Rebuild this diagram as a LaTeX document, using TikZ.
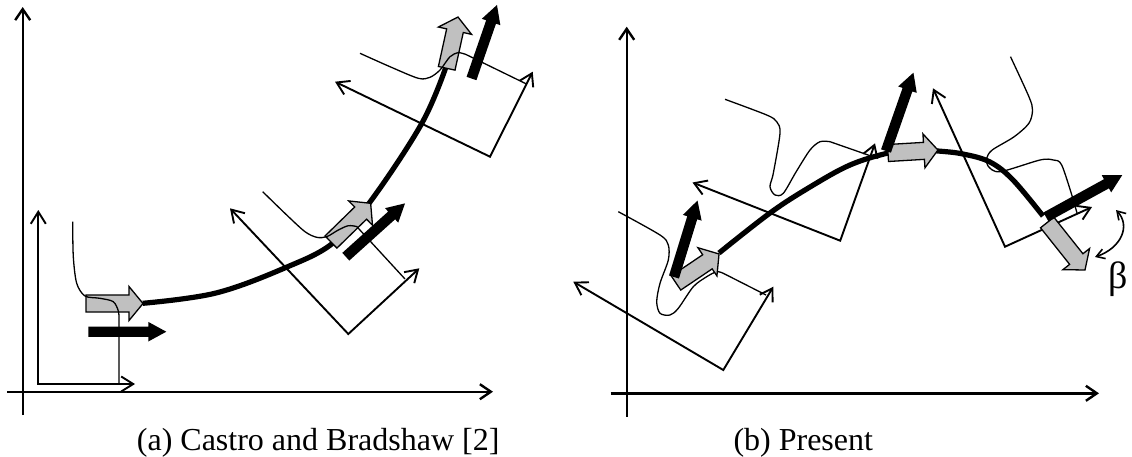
\documentclass[tikz,border=0pt]{standalone}
\usepackage{fontspec}
\setmainfont{Liberation Serif}
\usetikzlibrary{arrows.meta}
\definecolor{silverfill}{RGB}{192,192,192}
\begin{document}
\begin{tikzpicture}[x=1pt,y=-1pt,
  mainax/.style={line width=2.4pt,-{Straight Barb[length=11pt,width=15pt]}},
  frameax/.style={line width=1.9pt,{Straight Barb[length=12pt,width=15pt]}-{Straight Barb[length=12pt,width=15pt]}},
  profline/.style={line width=1.3pt},
  pathcurve/.style={line width=5.2pt},
  captext/.style={font=\fontsize{32}{38}\selectfont,inner sep=0pt},
  pics/garr/.style={code={\draw[line width=1.3pt,fill=silverfill,line join=miter]
     (0,-8.5) -- ({#1-14},-8.5) -- ({#1-14},-17) -- (#1,0) -- ({#1-14},17) -- ({#1-14},8.5) -- (0,8.5) -- cycle;}},
  pics/barr/.style={code={\fill
     (0,-5.2) -- ({#1-18},-5.2) -- ({#1-18},-9.8) -- (#1,0) -- ({#1-18},9.8) -- ({#1-18},5.2) -- (0,5.2) -- cycle;}}
]
\useasboundingbox (0,0) rectangle (1132,456);

% ---------------- panel (a) ----------------
\draw[mainax] (22.7,415) -- (22.7,7);
\draw[mainax] (7,391.7) -- (493,391.7);

% frames
\draw[frameax] (38.3,210) -- (38.3,384) -- (135,384);
\draw[frameax] (230,208.3) -- (348.3,334) -- (419.3,268.3);
\draw[frameax] (335,81.7) -- (490,156.7) -- (532.7,71.7);

% path
\draw[pathcurve] plot[smooth,tension=0.6] coordinates {(142.7,303.3) (216,293) (287,267) (333,243) (370,202) (422,123) (447,64)};

% gray arrows
\pic at (86,303.5) {garr=57};
\pic[rotate=44.3] at (331,242) {garr=55.4};
\pic[rotate=77.6] at (446.7,68.3) {garr=52.5};

% profiles
\draw[profline] plot[smooth,tension=0.5] coordinates {(72.7,221.7) (73.3,256.7) (76.7,283.3) (85,296) (100,298.3) (113.3,301.7) (118.5,311.7) (119,323)} -- (119,384);
\draw[profline] plot[smooth,tension=0.5] coordinates {(262.7,191.7) (286.7,215) (305,231.7) (316.7,237.3) (326.7,236.7) (338.3,230) (348.3,225.7) (356.7,226.5)} -- (405,279);
\draw[profline] plot[smooth,tension=0.5] coordinates {(360,53.3) (390,66.7) (418.3,78.3) (430,77.3) (440,70) (450,56.7) (458.3,52.7) (466,54.5)} -- (526.5,84);

% black arrows
\pic at (88.3,331.7) {barr=78};
\pic[rotate=42] at (345.8,256.7) {barr=79.7};
\pic[rotate=70.9] at (471.5,78.5) {barr=77.8};

% ---------------- panel (b) ----------------
\draw[mainax] (626.7,416.7) -- (626.7,26.7);
\draw[mainax] (610.7,393.3) -- (1099,393.3);

\draw[frameax] (573.3,281.7) -- (723.3,370) -- (773.3,286.7);
\draw[frameax] (692.5,182.5) -- (840.2,240.7) -- (875,143.3);
\draw[frameax] (933,88.3) -- (1005,246.7) -- (1092,207);

% profiles
\draw[profline] plot[smooth,tension=0.5] coordinates {(618.3,211.7) (660,235) (668.3,245) (668.3,260) (660,283.3) (656.7,301.7) (660,313.3) (670,315) (678.3,308.3) (693.3,286.7) (706.7,276.7) (716.7,271.7) (723.3,273.3)} -- (766,295);
\draw[profline] plot[smooth,tension=0.5] coordinates {(725,99.3) (766.7,115) (776.7,121.7) (780,133.3) (773.3,173.3) (770,186.7) (775,195) (783.3,193.3) (796,172) (810,150) (820,141.7) (830,141.7)} -- (871,156);
\draw[profline] plot[smooth,tension=0.5] coordinates {(1010.5,56.7) (1028.9,96.7) (1032.5,110) (1028.9,123.3) (1014.2,136.7) (992.2,150) (986.7,158.3) (988,166) (1000,171.7) (1040,160) (1053.3,160) (1061.7,165) (1073.3,200)} -- (1077,213);

% path
\draw[pathcurve] plot[smooth,tension=0.6] coordinates {(719,253) (770,213) (810,187) (850,165) (888,153) (913,149.5) (938,151) (963,154) (990,162) (1013,180) (1043,216)};

% gray arrows
\pic[rotate=34] at (676,283) {garr=51.9};
\pic[rotate=3.4] at (888,153) {garr=50};
\pic[rotate=-51.5] at (1047.2,222.5) {garr=60.7};

% black arrows
\pic[rotate=72.9] at (674,277) {barr=80};
\pic[rotate=70.7] at (886,151) {barr=83};
\pic[rotate=28.8] at (1046,217) {barr=87};

% beta angle
\draw[line width=1.6pt,{Straight Barb[length=8pt,width=10pt]}-{Straight Barb[length=8pt,width=10pt]}] (1116,210) .. controls (1131,226) and (1121,248) .. (1095,257);
\node[captext,font=\fontsize{38}{44}\selectfont] (betalabel) at (1118,279) {β};

% captions
\node[captext,anchor=base west] (capa) at (136.7,450) {(a) Castro and Bradshaw [2]};
\node[captext,anchor=base west] (capb) at (733.3,450) {(b) Present};
\end{tikzpicture}
\end{document}
